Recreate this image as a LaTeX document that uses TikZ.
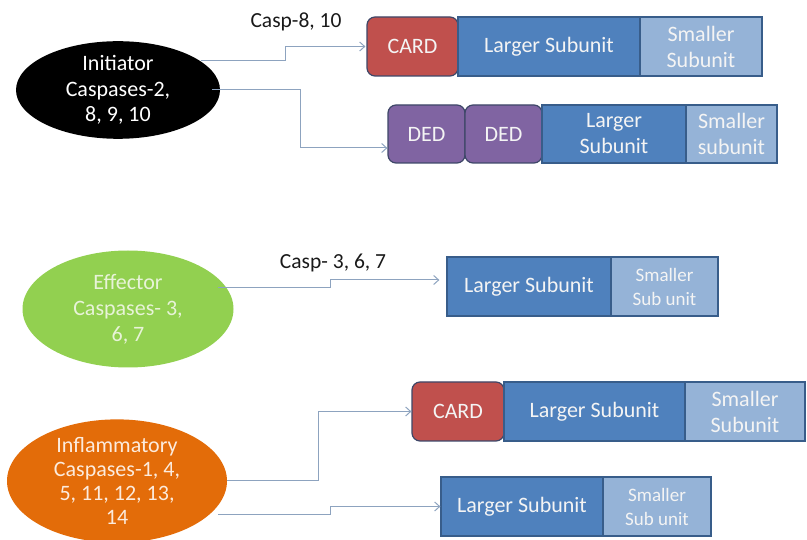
\documentclass[tikz,border=0pt]{standalone}
\usepackage{fontspec}
\setmainfont{Carlito}
\usetikzlibrary{arrows.meta,shapes.geometric}

\definecolor{cardred}{HTML}{C0504D}
\definecolor{dedpurple}{HTML}{8064A2}
\definecolor{largeblue}{HTML}{4F81BD}
\definecolor{smallblue}{HTML}{95B3D7}
\definecolor{boxline}{HTML}{385D8A}
\definecolor{domline}{HTML}{3E4768}
\definecolor{wire}{HTML}{8DA3BF}
\definecolor{effgreen}{HTML}{92D050}
\definecolor{inforange}{HTML}{E36C09}
\definecolor{paletext}{HTML}{F4F4F4}
\definecolor{greentext}{HTML}{E8F3D8}
\definecolor{orangetext}{HTML}{FCEBDD}

\tikzset{
  seg/.style={draw=boxline, line width=1.2pt, minimum height=59pt, inner sep=0pt,
    text=paletext, align=center, font=\fontsize{22}{26}\selectfont},
  lg/.style={seg, fill=largeblue},
  sm/.style={seg, fill=smallblue},
  smtight/.style={sm, font=\fontsize{19}{24}\selectfont},
  card/.style={seg, draw=domline, fill=cardred, rounded corners=8pt},
  ded/.style={seg, draw=domline, fill=dedpurple, rounded corners=8pt},
  family/.style={ellipse, inner sep=0pt, align=center, font=\fontsize{22}{24}\selectfont},
  wirearrow/.style={draw=wire, line width=1pt, -{Straight Barb[length=5pt,width=9pt]}},
  tag/.style={font=\fontsize{21.5}{24}\selectfont, text=black!90}
}

\begin{document}
\begin{tikzpicture}[x=1pt,y=-1pt]
\useasboundingbox (0,0) rectangle (807,540);

% caspase families
\node[family, fill=black, text=white, minimum width=204pt, minimum height=96pt,
      font=\fontsize{22}{25.5}\selectfont] (init) at (118,90) {Initiator\\Caspases-2,\\8, 9, 10};
\node[family, fill=effgreen, text=greentext, minimum width=211pt, minimum height=117pt,
      font=\fontsize{22}{26}\selectfont] (eff) at (128,309) {Effector\\Caspases- 3,\\6, 7};
\node[family, fill=inforange, text=orangetext, minimum width=220pt, minimum height=113pt] (inf) at (117,481) {Inflammatory\\Caspases-1, 4,\\5, 11, 12, 13,\\14};

% initiator: CARD form
\node[card, minimum width=91pt] (card1) at (412.5,46.5) {CARD};
\node[lg, minimum width=182pt] (lg1) at (549,46.5) {Larger Subunit};
\node[sm, minimum width=122pt] (sm1) at (701,46.5) {Smaller\\Subunit};

% initiator: DED form
\node[ded, minimum width=77pt, minimum height=58pt] (ded1) at (426.5,134) {DED};
\node[ded, minimum width=77pt, minimum height=58pt] (ded2) at (503.5,134) {DED};
\node[lg, minimum width=144pt, minimum height=58pt] (lg2) at (614,134) {Larger\\Subunit};
\node[sm, minimum width=91pt, minimum height=58pt] (sm2) at (731.5,134) {Smaller\\subunit};

% effector form
\node[lg, minimum width=164pt] (lg3) at (529,286.5) {Larger Subunit};
\node[smtight, minimum width=107pt] (sm3) at (664.5,286.5) {Smaller\\Sub unit};

% inflammatory: CARD form
\node[card, minimum width=92pt] (card4) at (458,411.5) {CARD};
\node[lg, minimum width=181pt] (lg4) at (594.5,411.5) {Larger Subunit};
\node[sm, minimum width=120pt] (sm4) at (745,411.5) {Smaller\\Subunit};

% inflammatory: plain form
\node[lg, minimum width=162pt] (lg5) at (522,506.5) {Larger Subunit};
\node[smtight, minimum width=108pt] (sm5) at (657,506.5) {Smaller\\Sub unit};

% connector start points
\coordinate (s1) at (201,61);
\coordinate (s2) at (212,90);
\coordinate (s3) at (218,288);
\coordinate (s4) at (227,480);
\coordinate (s5) at (218,514);

% connectors
\draw[wirearrow] (s1) -- ++(84,0) |- ([xshift=-1pt]card1.west);
\draw[wirearrow] (s2) -- ++(88,0) |- ([yshift=-14pt]ded1.west);
\draw[wirearrow] (s3) -- ++(112,0) |- ([xshift=-7pt,yshift=6.5pt]lg3.west);
\draw[wirearrow] (s4) -- ++(91,0) |- (card4.west);
\draw[wirearrow] (s5) -- ++(112,0) |- (lg5.west);

% connector labels
\node[tag] (t1) at (296,22) {Casp-8, 10};
\node[tag] (t2) at (333,263) {Casp- 3, 6, 7};
\end{tikzpicture}
\end{document}
